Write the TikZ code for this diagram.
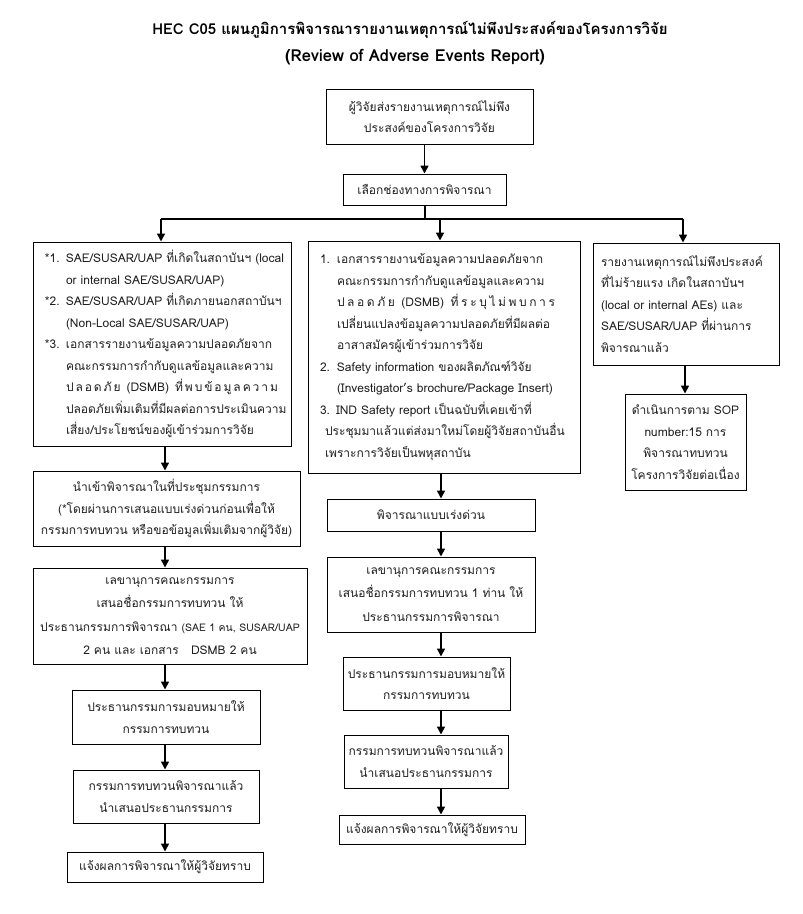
\documentclass[tikz,border=0pt]{standalone}
\usepackage{fontspec}
\setmainfont[Script=Thai]{Loma}
\usetikzlibrary{arrows.meta}
\newcommand{\bodyfnt}{\fontsize{12}{21.5}\selectfont}
\newcommand{\lnA}[2]{\mbox{\makebox[21pt][l]{#1}#2}}
\newcommand{\lnB}[2]{\mbox{\makebox[17pt][l]{#1}#2}}
\newcommand{\hf}{\hspace{0pt plus 1fill}}
\tikzset{
  box/.style={draw, line width=1pt, inner ysep=0pt, align=center, font=\bodyfnt, text=black!88},
  lbox/.style={box, align=left},
  arr/.style={-{Triangle[length=8pt,width=8pt]}, line width=1.6pt},
  ln/.style={line width=1.3pt},
}
\begin{document}
\begin{tikzpicture}[x=1pt,y=-1pt]
\fill[white] (0,0) rectangle (803,914);
\useasboundingbox (0,0) rectangle (803,914);

% title
\node[font=\bfseries\fontsize{15}{20}\selectfont] (t1) at (410,30) {HEC C05 แผนภูมิการพิจารณารายงานเหตุการณ์ไม่พึงประสงค์ของโครงการวิจัย};
\node[font=\bfseries\fontsize{16.5}{20}\selectfont] (t2) at (415,57) {(Review of Adverse Events Report)};

% top boxes
\node[box, minimum width=207, minimum height=55] (b1) at (429.5,116.5) {ผู้วิจัยส่งรายงานเหตุการณ์ไม่พึง\\ประสงค์ของโครงการวิจัย};
\node[box, minimum width=163, minimum height=31] (b2) at (424.5,189.5) {เลือกช่องทางการพิจารณา};

% left column
\node[lbox, text width=234, inner xsep=12, minimum height=204] (L1) at (162,344) {%
\lnA{*1.}{SAE/SUSAR/UAP ที่เกิดในสถาบันฯ (local}\\
\lnA{}{or internal SAE/SUSAR/UAP)}\\
\lnA{*2.}{SAE/SUSAR/UAP ที่เกิดภายนอกสถาบันฯ}\\
\lnA{}{(Non-Local SAE/SUSAR/UAP)}\\
\lnA{*3.}{เอกสารรายงานข้อมูลความปลอดภัยจาก}\\
\lnA{}{คณะกรรมการกำกับดูแลข้อมูลและความ}\\
\lnA{}{\makebox[212pt][s]{ป\hf ล\hf อ\hf ด\hf ภั\hf ย\hf\ (DSMB)\ \hf ที่\hf พ\hf บ\hf ข้\hf อ\hf มู\hf ล\hf ค\hf ว\hf า\hf ม}}\\
\lnA{}{ปลอดภัยเพิ่มเติมที่มีผลต่อการประเมินความ}\\
\lnA{}{เสี่ยง/ประโยชน์ของผู้เข้าร่วมการวิจัย}};

\node[box, minimum width=267, minimum height=75] (L2) at (166.5,508.5) {นำเข้าพิจารณาในที่ประชุมกรรมการ\\(*โดยผ่านการเสนอแบบเร่งด่วนก่อนเพื่อให้\\กรรมการทบทวน หรือขอข้อมูลเพิ่มเติมจากผู้วิจัย)};

\node[box, minimum width=274, minimum height=96, font=\fontsize{12}{23.5}\selectfont] (L3) at (170,616) {เลขานุการคณะกรรมการ\\เสนอชื่อกรรมการทบทวน ให้\\\mbox{ประธานกรรมการพิจารณา {\fontsize{10.5}{12}\selectfont(SAE 1 คน, SUSAR/UAP}}\\2 คน และ เอกสาร \ \ DSMB 2 คน};

\node[box, minimum width=188, minimum height=54] (L4) at (166,717) {ประธานกรรมการมอบหมายให้\\กรรมการทบทวน};
\node[box, minimum width=186, minimum height=53] (L5) at (166,796.5) {กรรมการทบทวนพิจารณาแล้ว\\นำเสนอประธานกรรมการ};
\node[box, minimum width=196, minimum height=30] (L6) at (165,867) {แจ้งผลการพิจารณาให้ผู้วิจัยทราบ};

% middle column
\node[lbox, text width=248, inner xsep=12, minimum height=232] (M1) at (444,357) {%
\lnB{1.}{เอกสารรายงานข้อมูลความปลอดภัยจาก}\\
\lnB{}{คณะกรรมการกำกับดูแลข้อมูลและความ}\\
\lnB{}{\makebox[218pt][s]{ป\hf ล\hf อ\hf ด\hf ภั\hf ย\hf\ (DSMB)\ \hf ที่\hf ร\hf ะ\hf บุ\hf ไ\hf ม่\hf พ\hf บ\hf ก\hf า\hf ร}}\\
\lnB{}{เปลี่ยนแปลงข้อมูลความปลอดภัยที่มีผลต่อ}\\
\lnB{}{อาสาสมัครผู้เข้าร่วมการวิจัย}\\
\lnB{2.}{Safety information ของผลิตภัณฑ์วิจัย}\\
\lnB{}{(Investigator’s brochure/Package Insert)}\\
\mbox{3. IND Safety report เป็นฉบับที่เคยเข้าที่}\\
\mbox{\hspace*{5pt}ประชุมมาแล้วแต่ส่งมาใหม่โดยผู้วิจัยสถาบันอื่น}\\
\mbox{\hspace*{5pt}เพราะการวิจัยเป็นพหุสถาบัน}};

\node[box, minimum width=208, minimum height=32] (M2) at (431,515) {พิจารณาแบบเร่งด่วน};
\node[box, minimum width=208, minimum height=75, font=\fontsize{12}{23.5}\selectfont] (M3) at (431,594.5) {เลขานุการคณะกรรมการ\\เสนอชื่อกรรมการทบทวน 1 ท่าน ให้\\ประธานกรรมการพิจารณา};
\node[box, minimum width=167, minimum height=53] (M4) at (426.5,683.5) {ประธานกรรมการมอบหมายให้\\กรรมการทบทวน};
\node[box, minimum width=164, minimum height=53] (M5) at (426,761.5) {กรรมการทบทวนพิจารณาแล้ว\\นำเสนอประธานกรรมการ};
\node[box, minimum width=186, minimum height=29] (M6) at (432,829.5) {แจ้งผลการพิจารณาให้ผู้วิจัยทราบ};

% right column
\node[lbox, text width=170, inner xsep=8, minimum height=122] (R1) at (686,304) {%
\mbox{รายงานเหตุการณ์ไม่พึงประสงค์}\\
\mbox{ที่ไม่ร้ายแรง เกิดในสถาบันฯ}\\
\mbox{(local or internal AEs) และ}\\
\mbox{SAE/SUSAR/UAP ที่ผ่านการ}\\
พิจารณาแล้ว};
\node[box, minimum width=121, minimum height=96] (R2) at (685.5,442) {ดำเนินการตาม SOP\\number:15 การ\\พิจารณาทบทวน\\โครงการวิจัยต่อเนื่อง};

% connectors
\coordinate (j) at (425,219);
\coordinate (jl) at (161,219);
\coordinate (jm) at (440,219);
\coordinate (jr) at (683,219);
\coordinate (cl) at (165,0);
\coordinate (cm) at (441,0);
\coordinate (cr) at (685,0);

\draw[arr] (b1.south -| b2.north) -- (b2.north);
\draw[ln] (b2.south -| j) -- (j);
\draw[ln] (jl) -- (jr);
\draw[arr] (jl) -- (jl |- L1.north);
\draw[arr] (jm) -- (jm |- M1.north);
\draw[arr] (jr) -- (jr |- R1.north);

\draw[arr] (L1.south -| cl) -- (L2.north -| cl);
\draw[arr] (L2.south -| cl) -- (L3.north -| cl);
\draw[arr] (L3.south -| cl) -- (L4.north -| cl);
\draw[arr] (L4.south -| cl) -- (L5.north -| cl);
\draw[arr] (L5.south -| cl) -- (L6.north -| cl);

\draw[arr] (M1.south -| cm) -- (M2.north -| cm);
\draw[arr] (M2.south -| cm) -- (M3.north -| cm);
\draw[arr] (M3.south -| cm) -- (M4.north -| cm);
\draw[arr] (M4.south -| cm) -- (M5.north -| cm);
\draw[arr] (M5.south -| cm) -- (M6.north -| cm);

\draw[arr] (R1.south -| cr) -- (R2.north -| cr);
\end{tikzpicture}
\end{document}
